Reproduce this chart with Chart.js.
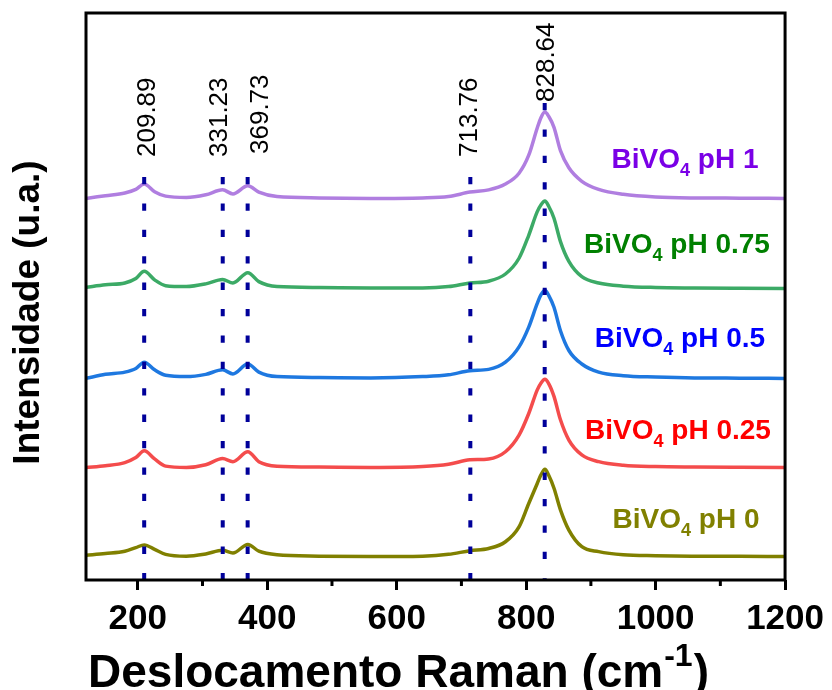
<!DOCTYPE html>
<html>
<head>
<meta charset="utf-8">
<script src="https://cdn.jsdelivr.net/npm/chart.js@4"></script>
<style>
  body { margin: 0; background: #fff; }
  canvas { display: block; }
</style>
</head>
<body>
<canvas id="raman" width="832" height="690"></canvas>
<script>
// Raman shift (cm-1) where each spectrum was sampled
const shift = [120, 150, 180, 197, 210, 226, 243, 275, 305, 331, 347, 370, 387, 415, 480, 560, 640, 680, 713, 742,
  768, 789, 804, 817, 823, 829, 835, 843, 853, 866, 886, 912, 950, 1000, 1060, 1130, 1200];

// relative intensity (u.a.) of each sample, before stacking
const pH0 = [1.5, 3.5, 6, 10, 13, 8, 2.5, 0.5, 3, 7, 4, 13.5, 6, 2, 0.5, 0, 0.5, 2.5, 6.5, 9,
  16.5, 33, 59, 81, 91, 97, 90, 76, 52, 29.5, 11, 5.5, 2, 1, 0.5, 0.3, 0];
const pH025 = [0, 2, 5.5, 11, 18.5, 9.5, 1.5, 0, 3, 10, 6.5, 17.5, 6.5, 1.5, 0.5, 0, 1, 3.5, 8.5, 9.5,
  17.5, 36, 60, 86, 94, 98, 93, 79, 53, 30.5, 14, 6.5, 2.5, 1, 0.5, 0.2, 0];
const pH05 = [0, 4.5, 7, 11, 18, 9.5, 3.5, 2, 4.5, 9.5, 5, 16, 7, 2, 1, 0.5, 2, 4, 8.5, 10,
  18, 35, 57, 83, 93, 98, 92, 79, 53, 31, 16, 7, 3, 1.5, 0.5, 0.3, 0];
const pH075 = [1.3, 4, 6, 11, 19, 9.5, 3, 2, 5, 10, 6, 17.5, 7.5, 2, 1, 0.5, 0.5, 2, 6, 8,
  16, 33.5, 59, 85, 93, 97, 91, 78, 52, 30, 13, 6, 2.5, 1, 0.5, 0.2, 0];
const pH1 = [0, 3, 6, 10, 16, 7.5, 2.5, 1, 4, 9.5, 5, 14, 7, 2, 0.5, 0, 0.5, 2, 7, 9.5,
  16, 28, 48, 78, 90, 96, 91, 79, 53, 34, 19, 10, 4.5, 1.5, 0.5, 0.3, 0];

const spectra = [pH0, pH025, pH05, pH075, pH1];
const phLabels = ["0", "0.25", "0.5", "0.75", "1"];
const offsets = [26, 125, 224, 324, 424];   // vertical stacking of the spectra

// band positions marked on the plot
const peaks = [209.89, 331.23, 369.73, 713.76, 828.64];

const xTicks = [200, 400, 600, 800, 1000, 1200];
const xMinor = [300, 500, 700, 900, 1100];

const lineColors = ["#808000", "#f44c4c", "#1e78e0", "#3caa66", "#b07ee0"];
const textColors = ["#808000", "#ff0000", "#0000ff", "#008000", "#7a00e6"];

const FONT = '"Liberation Sans", Arial, sans-serif';
Chart.defaults.font.family = FONT;
Chart.defaults.color = "#000";

// label layout (pixels)
const peakNudge = [3.9, -3.3, 13.4, -0.9, 2.2];
const peakTextTop = [157, 157, 154, 157, 102];
const markerTop = [177, 177, 177, 177, 103];
const nameCenter = [686, 678, 680, 677, 685];
const nameLift = [29, 29, 31, 35, 30];

const datasets = spectra.map((s, k) => ({
  label: "BiVO\u2084 pH " + phLabels[k],
  data: shift.map((x, i) => ({ x: x, y: s[i] + offsets[k] })),
  borderColor: lineColors[k],
  borderWidth: 3.5,
  pointRadius: 0,
  cubicInterpolationMode: "monotone",
  fill: false
}));

const decorations = {
  id: "decorations",
  afterDatasetsDraw(chart) {
    const { ctx, chartArea: a, scales: { x, y } } = chart;
    ctx.save();

    // dotted band markers
    ctx.strokeStyle = "#00009a";
    ctx.lineWidth = 4;
    ctx.setLineDash([7.3, 19.1]);
    peaks.forEach((p, i) => {
      const px = x.getPixelForValue(p);
      ctx.beginPath();
      ctx.moveTo(px, markerTop[i]);
      ctx.lineTo(px, a.bottom);
      ctx.stroke();
    });
    ctx.setLineDash([]);

    // band labels, written upwards
    ctx.fillStyle = "#000";
    ctx.font = "26px " + FONT;
    ctx.textAlign = "left";
    ctx.textBaseline = "middle";
    peaks.forEach((p, i) => {
      ctx.save();
      ctx.translate(x.getPixelForValue(p) + peakNudge[i], peakTextTop[i]);
      ctx.rotate(-Math.PI / 2);
      ctx.fillText(p.toFixed(2), 0, 0);
      ctx.restore();
    });

    // sample names with subscript
    ctx.textBaseline = "alphabetic";
    phLabels.forEach((ph, k) => {
      const big = "bold 28px " + FONT, small = "bold 18px " + FONT;
      const tail = " pH " + ph;
      ctx.font = big;
      const w1 = ctx.measureText("BiVO").width, w3 = ctx.measureText(tail).width;
      ctx.font = small;
      const w2 = ctx.measureText("4").width;
      let cx = nameCenter[k] - (w1 + w2 + w3) / 2;
      const by = y.getPixelForValue(offsets[k]) - nameLift[k];
      ctx.fillStyle = textColors[k];
      ctx.font = big;
      ctx.fillText("BiVO", cx, by);
      cx += w1;
      ctx.font = small;
      ctx.fillText("4", cx, by + 8);
      cx += w2;
      ctx.font = big;
      ctx.fillText(tail, cx, by);
    });
    ctx.restore();
  },
  afterDraw(chart) {
    const { ctx, chartArea: a, scales: { x } } = chart;
    ctx.save();
    ctx.strokeStyle = "#000";
    ctx.lineWidth = 3;
    ctx.strokeRect(a.left, a.top, a.right - a.left, a.bottom - a.top);

    // minor ticks
    xMinor.forEach(v => {
      const px = x.getPixelForValue(v);
      ctx.beginPath();
      ctx.moveTo(px, a.bottom);
      ctx.lineTo(px, a.bottom + 6);
      ctx.stroke();
    });

    // axis titles
    ctx.fillStyle = "#000";
    ctx.font = "bold 37px " + FONT;
    ctx.textAlign = "center";
    ctx.textBaseline = "middle";
    ctx.save();
    ctx.translate(29, (a.top + a.bottom) / 2 + 16);
    ctx.rotate(-Math.PI / 2);
    ctx.fillText("Intensidade (u.a.)", 0, 0);
    ctx.restore();

    ctx.textAlign = "left";
    ctx.textBaseline = "alphabetic";
    let tx = 88;
    const base = 687;
    ctx.font = "bold 46px " + FONT;
    ctx.fillText("Deslocamento Raman (cm", tx, base);
    tx += ctx.measureText("Deslocamento Raman (cm").width + 1;
    ctx.font = "bold 32px " + FONT;
    ctx.fillText("-1", tx, base - 21);
    tx += ctx.measureText("-1").width + 1;
    ctx.font = "bold 46px " + FONT;
    ctx.fillText(")", tx, base);
    ctx.restore();
  }
};

new Chart(document.getElementById("raman"), {
  type: "line",
  data: { datasets: datasets },
  options: {
    responsive: false,
    animation: false,
    layout: { padding: { left: 86, top: 13, right: 44, bottom: 0 } },
    plugins: { legend: { display: false }, tooltip: { enabled: false } },
    scales: {
      x: {
        type: "linear",
        min: 120,
        max: 1200,
        afterFit(scale) { scale.height = 110; },
        afterBuildTicks(scale) { scale.ticks = xTicks.map(v => ({ value: v })); },
        ticks: {
          font: { size: 35, weight: "bold" },
          color: "#000",
          padding: 8,
          maxRotation: 0,
          autoSkip: false,
          callback: v => String(v)
        },
        grid: {
          display: true,
          drawOnChartArea: false,
          drawTicks: true,
          tickLength: 10,
          color: "#000",
          lineWidth: 3
        },
        border: { display: false }
      },
      y: {
        display: false,
        min: 0,
        max: 630
      }
    }
  },
  plugins: [decorations]
});
</script>
</body>
</html>
